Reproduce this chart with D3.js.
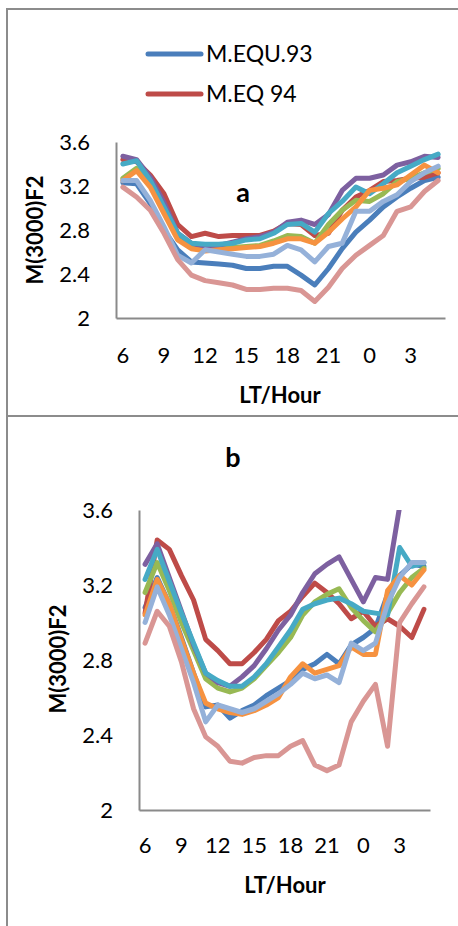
<!DOCTYPE html>
<html>
<head>
<meta charset="utf-8">
<script src="https://cdn.jsdelivr.net/npm/d3@7"></script>
<style>
  html, body { margin: 0; padding: 0; background: #fff; }
  svg { display: block; }
  text { font-family: Lato, "Open Sans", sans-serif; fill: #000; }
</style>
</head>
<body>
<svg id="chart" width="458" height="926"></svg>
<script>
// Local time categories, 06 LT through 05 LT of the next day
const hours = ["6","7","8","9","10","11","12","13","14","15","16","17","18","19","20","21","22","23","0","1","2","3","4","5"];
const xTickLabels = ["6","9","12","15","18","21","0","3"];
const yTickValues = [2, 2.4, 2.8, 3.2, 3.6];
const legendNames = ["M.EQU.93", "M.EQ 94"];

// Panel a: M(3000)F2 hourly values, eight series
const a1 = [3.23,3.22,3.04,2.80,2.62,2.51,2.50,2.49,2.48,2.45,2.45,2.47,2.47,2.39,2.30,2.45,2.63,2.78,2.89,3.01,3.10,3.18,3.25,3.28];
const a2 = [3.44,3.42,3.30,3.13,2.85,2.74,2.77,2.74,2.75,2.75,2.75,2.79,2.86,2.85,2.75,2.77,2.98,3.10,3.16,3.24,3.25,3.27,3.28,3.32];
const a3 = [3.27,3.36,3.21,2.97,2.74,2.66,2.64,2.63,2.64,2.65,2.66,2.70,2.75,2.74,2.68,2.85,2.98,3.07,3.06,3.13,3.24,3.27,3.32,3.36];
const a4 = [3.47,3.44,3.28,3.05,2.77,2.68,2.65,2.66,2.69,2.72,2.74,2.78,2.87,2.89,2.85,2.94,3.16,3.27,3.27,3.30,3.39,3.42,3.47,3.46];
const a5 = [3.40,3.43,3.25,3.01,2.77,2.68,2.67,2.67,2.68,2.71,2.72,2.77,2.85,2.86,2.78,2.95,3.06,3.19,3.13,3.22,3.32,3.38,3.44,3.49];
const a6 = [3.25,3.34,3.19,2.95,2.71,2.63,2.61,2.62,2.63,2.64,2.65,2.68,2.72,2.72,2.68,2.78,2.90,3.01,3.16,3.18,3.21,3.30,3.39,3.32];
const a7 = [3.25,3.25,3.07,2.83,2.57,2.50,2.62,2.60,2.58,2.56,2.56,2.58,2.66,2.62,2.51,2.65,2.68,2.97,2.97,3.06,3.12,3.24,3.32,3.38];
const a8 = [3.19,3.10,2.98,2.77,2.53,2.39,2.34,2.32,2.30,2.26,2.26,2.27,2.27,2.25,2.15,2.28,2.45,2.57,2.66,2.75,2.97,3.01,3.15,3.25];

// Panel b: M(3000)F2 hourly values, eight series
const b1 = [3.08,3.24,3.10,2.92,2.73,2.55,2.56,2.49,2.53,2.56,2.61,2.65,2.69,2.75,2.78,2.83,2.78,2.88,2.92,2.97,3.15,3.25,3.31,3.30];
const b2 = [3.05,3.44,3.39,3.25,3.12,2.91,2.85,2.78,2.78,2.84,2.91,3.01,3.06,3.14,3.21,3.16,3.10,3.02,3.06,2.98,3.02,2.98,2.92,3.07];
const b3 = [3.16,3.32,3.17,3.00,2.85,2.70,2.65,2.63,2.65,2.70,2.77,2.84,2.92,3.04,3.11,3.15,3.18,3.08,3.01,2.95,3.05,3.16,3.24,3.29];
const b4 = [3.31,3.42,3.24,3.06,2.88,2.73,2.68,2.66,2.71,2.77,2.86,2.96,3.04,3.16,3.26,3.31,3.35,3.23,3.11,3.24,3.23,3.62,3.80,3.85];
const b5 = [3.23,3.39,3.22,3.05,2.89,2.73,2.69,2.66,2.66,2.71,2.78,2.87,2.96,3.07,3.10,3.12,3.13,3.10,3.06,3.05,3.04,3.40,3.30,3.32];
const b6 = [3.04,3.23,3.10,2.91,2.73,2.57,2.54,2.52,2.51,2.53,2.56,2.60,2.71,2.78,2.73,2.75,2.77,2.87,2.83,2.83,3.17,3.25,3.20,3.28];
const b7 = [3.00,3.19,3.04,2.86,2.68,2.47,2.56,2.54,2.52,2.54,2.58,2.62,2.67,2.73,2.70,2.72,2.68,2.89,2.85,2.89,3.10,3.24,3.32,3.32];
const b8 = [2.89,3.06,2.98,2.79,2.54,2.39,2.34,2.26,2.25,2.28,2.29,2.29,2.34,2.37,2.24,2.21,2.24,2.47,2.58,2.67,2.34,3.00,3.10,3.19];

const seriesA = [a1, a2, a3, a4, a5, a6, a7, a8];
const seriesB = [b1, b2, b3, b4, b5, b6, b7, b8];

// Office-style line palette
const colors = ["#4A7EBB", "#BE4B48", "#98B954", "#7D60A0", "#46AAC5", "#F69240", "#95B1D9", "#D99694"];

const svg = d3.select("#chart");
const frameColor = "#8c8c8c";
const axisColor = "#8a8a8a";

// Outer chart frames
svg.append("path")
  .attr("d", "M458,9 H7 V926 M7,416 H458")
  .attr("fill", "none")
  .attr("stroke", frameColor)
  .attr("stroke-width", 2);

function drawPanel(cfg) {
  const g = svg.append("g");
  const x = d3.scaleBand().domain(hours).range([cfg.left, cfg.right]).padding(0);
  const y = d3.scaleLinear().domain([2, 3.6]).range([cfg.bottom, cfg.top]);
  const cx = h => x(h) + x.bandwidth() / 2;

  const clipId = "clip-" + cfg.id;
  svg.append("clipPath").attr("id", clipId)
    .append("rect")
    .attr("x", cfg.left - 10).attr("y", cfg.top)
    .attr("width", cfg.right - cfg.left + 20).attr("height", cfg.bottom - cfg.top + 10);

  // Y axis
  const yAxis = g.append("g")
    .attr("transform", `translate(${cfg.left},0)`)
    .call(d3.axisLeft(y).tickValues(yTickValues).tickSize(0).tickPadding(26)
      .tickFormat(d => d3.format("~g")(d)));
  yAxis.select(".domain").attr("stroke", axisColor).attr("stroke-width", 2);
  yAxis.selectAll("text").style("font-size", "22px").style("font-family", "Lato, 'Open Sans', sans-serif")
    .attr("dy", "0.36em");

  // X axis
  const xAxis = g.append("g")
    .attr("transform", `translate(0,${cfg.bottom})`)
    .call(d3.axisBottom(x).tickValues(xTickLabels).tickSize(0).tickPadding(cfg.xPad));
  xAxis.select(".domain").attr("stroke", axisColor).attr("stroke-width", 2);
  xAxis.selectAll("text").style("font-size", "22px").style("font-family", "Lato, 'Open Sans', sans-serif");

  // Series lines
  const line = d3.line()
    .x((d, i) => cx(hours[i]))
    .y(d => y(d));

  g.append("g").attr("clip-path", `url(#${clipId})`)
    .selectAll("path.series")
    .data(cfg.series)
    .join("path")
    .attr("class", "series")
    .attr("d", line)
    .attr("fill", "none")
    .attr("stroke", (d, i) => colors[i])
    .attr("stroke-width", 5)
    .attr("stroke-linejoin", "round")
    .attr("stroke-linecap", "round");

  // Axis titles
  g.append("text")
    .attr("transform", `translate(${cfg.yTitleX},${cfg.yTitleY}) rotate(-90)`)
    .attr("text-anchor", "middle")
    .attr("dy", "0.35em")
    .style("font-size", "22px").style("font-weight", "bold")
    .text("M(3000)F2");

  g.append("text")
    .attr("x", cfg.xTitleX).attr("y", cfg.xTitleY)
    .attr("text-anchor", "middle")
    .style("font-size", "22px").style("font-weight", "bold")
    .text("LT/Hour");

  // Panel letter
  g.append("text")
    .attr("x", cfg.letterX).attr("y", cfg.letterY)
    .attr("text-anchor", "middle")
    .style("font-size", "27px").style("font-weight", "bold")
    .text(cfg.letter);
}

drawPanel({
  id: "a", letter: "a", series: seriesA,
  left: 116, right: 445, top: 142, bottom: 318, xPad: 29,
  yTitleX: 35, yTitleY: 230, xTitleX: 280, xTitleY: 403,
  letterX: 243, letterY: 202
});

drawPanel({
  id: "b", letter: "b", series: seriesB,
  left: 139, right: 430, top: 510, bottom: 810, xPad: 27,
  yTitleX: 58, yTitleY: 659, xTitleX: 285, xTitleY: 893,
  letterX: 233, letterY: 467
});

// Legend for the first two series
const legend = svg.append("g");
legendNames.forEach((name, i) => {
  const ly = 54 + i * 40;
  legend.append("line")
    .attr("x1", 148).attr("x2", 201)
    .attr("y1", ly).attr("y2", ly)
    .attr("stroke", colors[i])
    .attr("stroke-width", 5)
    .attr("stroke-linecap", "round");
  legend.append("text")
    .attr("x", 206).attr("y", ly + 8)
    .style("font-size", "23px")
    .text(name);
});
</script>
</body>
</html>
